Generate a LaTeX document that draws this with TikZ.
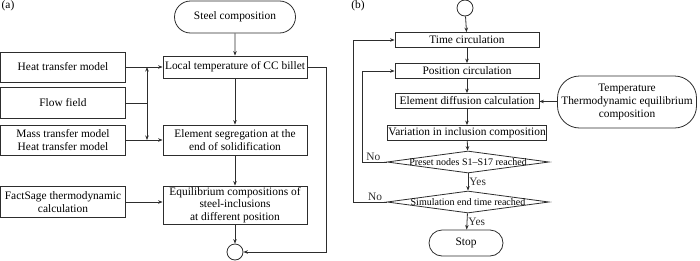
\documentclass[tikz,border=0pt]{standalone}
\usepackage{fontspec}
\setmainfont{Liberation Serif}
\usetikzlibrary{arrows.meta, shapes.geometric, shapes.misc}
\definecolor{lineK}{RGB}{45,45,45}
\tikzset{
  box/.style={draw=lineK, line width=0.8pt, align=center, inner sep=1pt,
    font=\fontsize{11.4}{12.8}\selectfont},
  term/.style={box, rounded rectangle},
  dec/.style={draw=lineK, line width=0.8pt, diamond, inner sep=0pt,
    minimum width=162pt, minimum height=22pt},
  junc/.style={draw=lineK, line width=0.8pt, circle, minimum size=16pt, inner sep=0pt},
  arr/.style={-{Stealth[length=4.5pt, width=3.5pt]}, line width=0.8pt, lineK},
  ln/.style={line width=0.8pt, lineK},
  lab/.style={font=\fontsize{11.4}{12}\selectfont, inner sep=1pt}
}

\begin{document}
\begin{tikzpicture}[x=1pt, y=-1pt]
\useasboundingbox (0,0) rectangle (700,260);
% Left: model inputs and position-wise calculation
\begin{scope}[shift={(0,0)}]
\node[lab] (taga) at (8,6) {(a)};
\node[term, minimum width=123pt, minimum height=32pt] (steel) at (235,17) {Steel composition};
\node[box, minimum width=144pt, minimum height=22pt] (local) at (235,67) {Local temperature of CC billet};
\node[box, minimum width=144pt, minimum height=30pt] (elseg) at (235,140) {Element segregation at the\\end of solidification};
\node[box, minimum width=144pt, minimum height=38pt] (equil) at (235,205) {Equilibrium compositions of\\steel-inclusions\\at different position};
\node[junc] (endc) at (235,252) {};
\node[box, minimum width=125pt, minimum height=30pt] (heat) at (63,67) {Heat transfer model};
\node[box, minimum width=125pt, minimum height=31pt] (flow) at (63,103) {Flow field};
\node[box, minimum width=125pt, minimum height=30pt] (mass) at (63,140) {Mass transfer model\\Heat transfer model};
\node[box, minimum width=125pt, minimum height=31pt] (fact) at (63,202) {FactSage thermodynamic\\calculation};
\coordinate (jmid) at (147,103);
\coordinate (jtop) at (147,67);
\coordinate (jbot) at (147,140);
\draw[arr] (steel) -- (local);
\draw[arr] (heat) -- (local);
\draw[ln] (flow.east) -- (jmid);
\draw[arr] (jmid) -- (jtop);
\draw[arr] (jmid) -- (jbot);
\draw[arr] (mass) -- (elseg);
\draw[arr] (local) -- (elseg);
\draw[arr] (elseg) -- (equil);
\draw[arr] (fact.east) -- (fact.east -| equil.west);
\draw[arr] (equil) -- (endc);
\draw[arr] (local.east) -- ++(19,0) |- (endc.east);
\end{scope}
% Right: time and position loops
\begin{scope}[shift={(350,0)}]
\node[lab] (tagb) at (8,6) {(b)};
\node[junc] (startc) at (115,8) {};
\node[box, minimum width=144pt, minimum height=15pt] (time) at (117,40) {Time circulation};
\node[box, minimum width=144pt, minimum height=15pt] (pos) at (117,71) {Position circulation};
\node[box, minimum width=144pt, minimum height=15pt] (diff) at (117,101) {Element diffusion calculation};
\node[box, minimum width=144pt, minimum height=15pt] (vari) at (117,133) {Variation in inclusion composition};
\node[box, rounded corners=22pt, minimum width=139pt, minimum height=52pt] (temp) at (277,102) {Temperature\\Thermodynamic equilibrium\\composition};
\node[dec, label={[font=\fontsize{10}{11}\selectfont]center:Preset nodes S1--S17 reached}] (dec1) at (118,162) {};
\node[dec, label={[font=\fontsize{10}{11}\selectfont]center:Simulation end time reached}] (dec2) at (118,202) {};
\node[term, minimum width=76pt, minimum height=26pt] (stop) at (116,243) {Stop};
\draw[arr] (startc) -- (time);
\draw[arr] (time) -- (pos);
\draw[arr] (pos) -- (diff);
\draw[arr] (diff) -- (vari);
\draw[arr] (vari) -- (dec1);
\draw[arr] (dec1) -- node[lab, right] {Yes} (dec2);
\draw[arr] (dec2) -- node[lab, right] {Yes} (stop);
\draw[arr] (temp) -- (diff);
\draw[arr] (dec1.west) -- ++(-24,0) node[lab, above, pos=0.55] {No} |- (pos.west);
\draw[arr] (dec2.west) -- ++(-33,0) node[lab, above, pos=0.35] {No} |- (time.west);
\end{scope}
\end{tikzpicture}
\end{document}
